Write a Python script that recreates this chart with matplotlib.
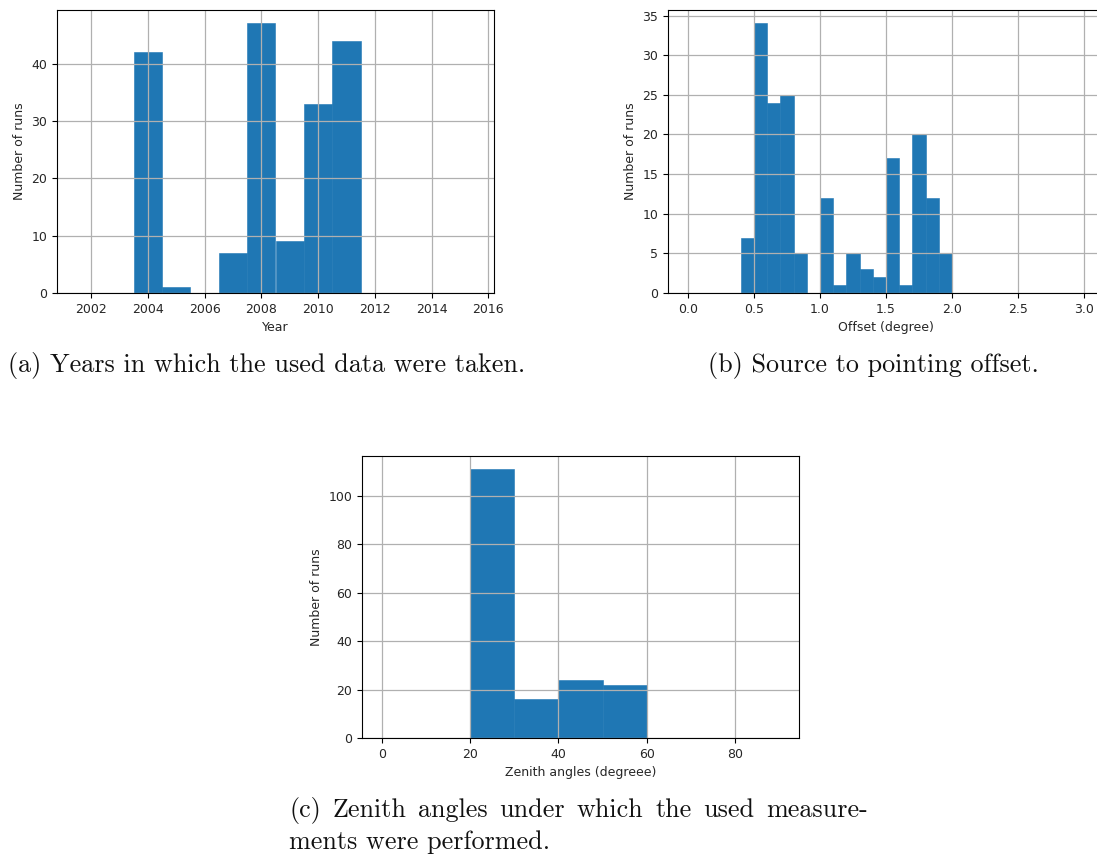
import numpy as np
import matplotlib
matplotlib.use('Agg')
import matplotlib.pyplot as plt
import matplotlib.ticker as tic

# (a) runs per year
year_centers = [2002, 2003, 2004, 2005, 2006, 2007, 2008, 2009, 2010, 2011, 2012, 2013, 2014, 2015]
year_counts = [0, 0, 42, 1, 0, 7, 47, 9, 33, 44, 0, 0, 0, 0]
year_edges = np.arange(2001.5, 2016.0, 1.0)

# (b) source to pointing offset, bins of 0.1 deg
offset_edges = np.linspace(0.0, 3.0, 31)
offset_counts = [0, 0, 0, 0, 7, 34, 24, 25, 5, 0,
                 12, 1, 5, 3, 2, 17, 1, 20, 12, 5,
                 0, 0, 0, 0, 0, 0, 0, 0, 0, 0]

# (c) zenith angles, bins of 10 deg
zenith_edges = np.arange(0, 91, 10)
zenith_counts = [0, 0, 111, 16, 24, 22, 0, 0, 0]

captions = ['(a) Years in which the used data were taken.',
            '(b) Source to pointing offset.',
            '(c) Zenith angles under which the used measure-',
            'ments were performed.']

W, H = 1097, 855
fig = plt.figure(figsize=(W/100, H/100), dpi=100)

def box(l, t, r, b):
    return [l/W, (H-b)/H, (r-l)/W, (b-t)/H]

def panel(rect, edges, counts, xlabel):
    ax = fig.add_axes(rect)
    centers = (np.asarray(edges[:-1]) + np.asarray(edges[1:])) / 2
    ax.hist(centers, bins=edges, weights=counts, color='#1f77b4',
            edgecolor='#1f77b4', linewidth=0.4)
    ax.grid(True, color='#b0b0b0', linewidth=0.9)
    ax.set_axisbelow('line')
    ax.set_xlabel(xlabel, fontsize=9, color='#262626')
    ax.set_ylabel('Number of runs', fontsize=9, color='#262626')
    ax.tick_params(labelsize=9, labelcolor='#262626')
    return ax

ax1 = panel(box(57, 10, 494, 293), year_edges, year_counts, 'Year')
ax1.xaxis.set_major_locator(tic.MultipleLocator(2))
ax1.yaxis.set_major_locator(tic.MultipleLocator(10))

ax2 = panel(box(668, 10, 1104, 293), offset_edges, offset_counts, 'Offset (degree)')
ax2.xaxis.set_major_locator(tic.MultipleLocator(0.5))
ax2.yaxis.set_major_locator(tic.MultipleLocator(5))

ax3 = panel(box(362, 456, 799, 738), zenith_edges, zenith_counts, 'Zenith angles (degreee)')
ax3.xaxis.set_major_locator(tic.MultipleLocator(20))
ax3.yaxis.set_major_locator(tic.MultipleLocator(20))

cap = dict(family='cmr10', fontsize=18.8, va='baseline', ha='left', color='#111111')
fig.text(8/W, 1-372/H, captions[0], **cap)
fig.text(708/W, 1-372/H, captions[1], **cap)
fig.text(289/W, 1-849/H, captions[3], **cap)

# first line of (c) is justified between x=289 and x=868, like TeX does
words = captions[2].split(' ')
renderer = fig.canvas.get_renderer()
texts = [fig.text(0, 1-817/H, w, **cap) for w in words]
widths = [t.get_window_extent(renderer).width for t in texts]
gap = (868 - 289 - sum(widths)) / (len(words) - 1)
x = 289
for t, w in zip(texts, widths):
    t.set_x(x/W)
    x += w + gap

fig.savefig('out.png', dpi=100)
